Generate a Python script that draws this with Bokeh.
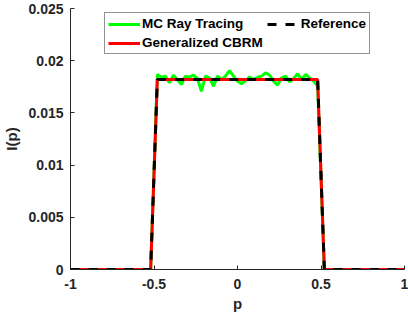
from bokeh.plotting import figure
from bokeh.models import Legend, LegendItem, Range1d, FixedTicker
from bokeh.embed import file_html
from bokeh.resources import INLINE

# Reference and Generalized CBRM (step profile)
p_ref = [-1.0, -0.52, -0.48, 0.48, 0.52, 1.0]
I_ref = [0.0, 0.0, 0.0182, 0.0182, 0.0, 0.0]
p_cbrm = [-1.0, -0.52, -0.48, 0.48, 0.52, 1.0]
I_cbrm = [0.0, 0.0, 0.0182, 0.0182, 0.0, 0.0]

# MC Ray Tracing (noisy)
p_mc = [-1.0, -0.52,
        -0.48, -0.456, -0.432, -0.408, -0.384, -0.36, -0.336, -0.312, -0.288, -0.264,
        -0.24, -0.216, -0.192, -0.168, -0.144, -0.12, -0.096, -0.072, -0.048, -0.024,
        0.0, 0.024, 0.048, 0.072, 0.096, 0.12, 0.144, 0.168, 0.192, 0.216,
        0.24, 0.264, 0.288, 0.312, 0.336, 0.36, 0.384, 0.408, 0.432, 0.456, 0.48,
        0.52, 1.0]
I_mc = [0.0, 0.0,
        0.01868, 0.01842, 0.01852, 0.01788, 0.01861, 0.01820, 0.01772, 0.01852, 0.01842, 0.01861,
        0.01830, 0.01708, 0.01852, 0.01836, 0.01756, 0.01852, 0.01820, 0.01852, 0.01906, 0.01852,
        0.01804, 0.01779, 0.01810, 0.01842, 0.01820, 0.01842, 0.01852, 0.01884, 0.01861, 0.01804,
        0.01766, 0.01836, 0.01852, 0.01798, 0.01830, 0.01874, 0.01820, 0.01868, 0.01836, 0.01804, 0.01756,
        0.0, 0.0]

x_ticks = [-1, -0.5, 0, 0.5, 1]
y_ticks = [0, 0.005, 0.01, 0.015, 0.02, 0.025]

FONT = "Liberation Sans"
AX = "#262626"

p = figure(width=408, height=320, output_backend="svg", toolbar_location=None,
           x_range=Range1d(-1, 1), y_range=Range1d(0, 0.025),
           min_border_left=70, min_border_right=4, min_border_top=8, min_border_bottom=51)
p.outline_line_color = None
p.xgrid.visible = False
p.ygrid.visible = False

r_mc = p.line(p_mc, I_mc, line_color="#00FF00", line_width=3)
r_cb = p.line(p_cbrm, I_cbrm, line_color="#FF0000", line_width=3)
r_ref = p.line(p_ref, I_ref, line_color="black", line_width=3, line_dash="9 9")

for ax in (p.xaxis[0], p.yaxis[0]):
    ax.axis_line_color = AX
    ax.major_tick_line_color = AX
    ax.minor_tick_line_color = None
    ax.major_tick_in = 4
    ax.major_tick_out = 0
    ax.major_label_text_font = FONT
    ax.major_label_text_font_style = "bold"
    ax.major_label_text_font_size = "14px"
    ax.major_label_text_color = AX
    ax.axis_label_text_font = FONT
    ax.axis_label_text_font_style = "bold"
    ax.axis_label_text_font_size = "15px"
    ax.axis_label_text_color = AX

p.xaxis.ticker = FixedTicker(ticks=x_ticks)
p.yaxis.ticker = FixedTicker(ticks=y_ticks)
p.xaxis.major_label_overrides = {-1: "-1", -0.5: "-0.5", 0: "0", 0.5: "0.5", 1: "1"}
p.yaxis.major_label_overrides = {0: "0", 0.005: "0.005", 0.01: "0.01", 0.015: "0.015", 0.02: "0.02", 0.025: "0.025"}
p.xaxis.axis_label = "p"
p.yaxis.axis_label = "I(p)"
p.xaxis.major_label_standoff = 9
p.yaxis.major_label_standoff = 7
p.xaxis.axis_label_standoff = 3
p.yaxis.axis_label_standoff = 5

legend = Legend(items=[LegendItem(label="MC Ray Tracing", renderers=[r_mc]),
                       LegendItem(label="Generalized CBRM", renderers=[r_cb]),
                       LegendItem(label="Reference", renderers=[r_ref])],
                location=(34, 215), ncols=2)
legend.label_text_font = FONT
legend.label_text_font_style = "bold"
legend.label_text_font_size = "13.5px"
legend.label_text_color = "black"
legend.glyph_width = 32
legend.glyph_height = 12
legend.label_standoff = 2
legend.label_height = 12
legend.padding = 3
legend.spacing = 4
legend.margin = 0
legend.border_line_color = AX
legend.border_line_width = 1
legend.background_fill_alpha = 1
p.add_layout(legend)

open("out.html", "w").write(file_html(p, INLINE))
